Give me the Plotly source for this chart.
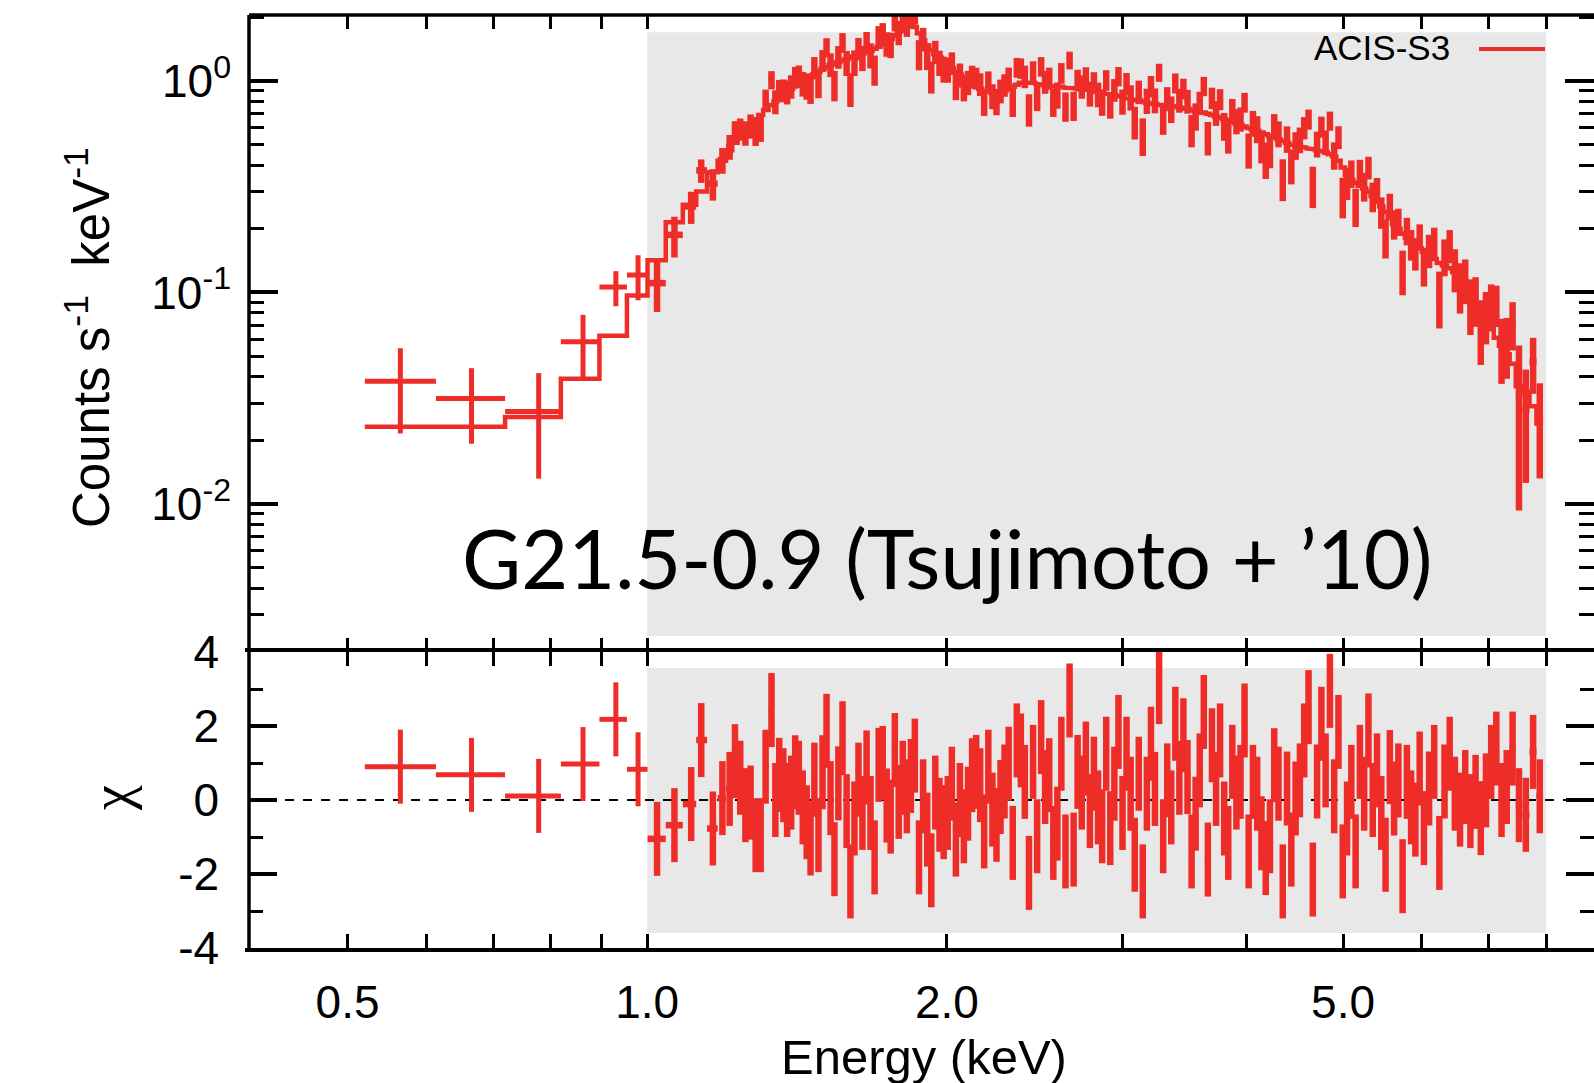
import numpy as np
import plotly.graph_objects as go

# ---------------- data ----------------
# bin centre energies (keV)
energy = [
    0.565, 0.666, 0.778, 0.862, 0.930, 0.979,
    1.023, 1.065, 1.107, 1.133, 1.164, 1.190, 1.210, 1.225, 1.240, 1.255,
    1.270, 1.285, 1.300, 1.315, 1.333, 1.345, 1.357, 1.370, 1.382, 1.395,
    1.408, 1.420, 1.433, 1.446, 1.459, 1.472, 1.486, 1.500, 1.514, 1.528,
    1.542, 1.556, 1.571, 1.586, 1.600, 1.615, 1.630, 1.645, 1.661, 1.676,
    1.692, 1.708, 1.724, 1.740, 1.756, 1.773, 1.789, 1.806, 1.823, 1.840,
    1.857, 1.875, 1.893, 1.911, 1.929, 1.947, 1.966,
    1.985, 2.004, 2.023, 2.042, 2.061, 2.080, 2.100, 2.120, 2.140, 2.160,
    2.180, 2.201, 2.222, 2.243, 2.264, 2.285, 2.307, 2.329, 2.351, 2.373,
    2.395, 2.418, 2.441, 2.464, 2.487, 2.510, 2.534, 2.558, 2.582, 2.606,
    2.631, 2.656, 2.681, 2.706, 2.732, 2.758, 2.784, 2.810, 2.837, 2.864,
    2.891, 2.918, 2.946, 2.974, 3.002, 3.030, 3.059, 3.088, 3.117, 3.146,
    3.176, 3.206, 3.236, 3.267, 3.298, 3.329, 3.360, 3.392, 3.424, 3.456,
    3.489, 3.522, 3.555, 3.589, 3.623, 3.657, 3.692, 3.727, 3.762, 3.798,
    3.834, 3.870, 3.907, 3.944, 3.981,
    4.019, 4.059, 4.099, 4.140, 4.181, 4.222, 4.264, 4.306, 4.349, 4.392,
    4.436, 4.480, 4.525, 4.570, 4.616, 4.662, 4.708, 4.755, 4.802, 4.850,
    4.898, 4.947, 4.996, 5.046, 5.096, 5.147, 5.198, 5.250, 5.302, 5.355,
    5.408, 5.462, 5.516, 5.571, 5.626, 5.682, 5.738, 5.795, 5.852, 5.910,
    5.969, 6.028, 6.100, 6.173, 6.247, 6.322, 6.398, 6.475, 6.553, 6.632,
    6.712, 6.793, 6.875, 6.958, 7.042, 7.127, 7.213, 7.300, 7.400, 7.510,
    7.630, 7.760, 7.880,
]

# model (step histogram), counts s^-1 keV^-1
model_rate = [
    0.0232, 0.0232, 0.0258, 0.0391, 0.0625, 0.0968,
    0.142, 0.215, 0.26, 0.30, 0.37, 0.42, 0.47, 0.51, 0.55, 0.58,
    0.62, 0.66, 0.69, 0.73, 0.77, 0.80, 0.83, 0.86, 0.89, 0.92,
    0.95, 0.98, 1.00, 1.03, 1.06, 1.08, 1.11, 1.14, 1.16, 1.19,
    1.21, 1.23, 1.25, 1.27, 1.29, 1.31, 1.33, 1.35, 1.37, 1.39,
    1.42, 1.45, 1.49, 1.53, 1.58, 1.64, 1.71, 1.78, 1.83, 1.85,
    1.80, 1.68, 1.56, 1.47, 1.40, 1.34, 1.29,
    1.24, 1.19, 1.15, 1.11, 1.07, 1.03, 1.00, 0.97, 0.94, 0.92,
    0.90, 0.89, 0.88, 0.88, 0.89, 0.90, 0.92, 0.94, 0.96, 0.98,
    0.99, 0.99, 0.98, 0.97, 0.96, 0.95, 0.95, 0.94, 0.94, 0.94,
    0.93, 0.93, 0.93, 0.92, 0.92, 0.91, 0.91, 0.90, 0.89, 0.88,
    0.87, 0.86, 0.86, 0.85, 0.84, 0.83, 0.82, 0.81, 0.81, 0.80,
    0.79, 0.78, 0.78, 0.77, 0.77, 0.77, 0.76, 0.76, 0.75, 0.74,
    0.74, 0.73, 0.72, 0.71, 0.71, 0.70, 0.69, 0.68, 0.67, 0.66,
    0.65, 0.64, 0.63, 0.62, 0.61,
    0.60, 0.59, 0.58, 0.57, 0.56, 0.55, 0.54, 0.53, 0.52, 0.51,
    0.50, 0.495, 0.49, 0.485, 0.48, 0.475, 0.47, 0.465, 0.46, 0.45,
    0.44, 0.42, 0.39, 0.36, 0.34, 0.33, 0.32, 0.31, 0.30, 0.285,
    0.27, 0.255, 0.24, 0.225, 0.21, 0.20, 0.19, 0.182, 0.175, 0.168,
    0.162, 0.156, 0.150, 0.144, 0.138, 0.134, 0.130, 0.125, 0.116, 0.106,
    0.097, 0.088, 0.080, 0.073, 0.067, 0.061, 0.056, 0.051, 0.046, 0.036,
    0.034, 0.029, 0.024,
]

# residuals chi = (data - model) / sigma
chi = [
    0.90, 0.68, 0.11, 0.97, 2.18, 0.83,
    -1.05, -0.68, -0.11, 1.62, -0.77, 0.05, 0.30, 1.05, 0.60, -0.14,
    -0.07, -0.95, -0.95, 0.90, 2.43, 0.00, 0.68, 0.40, 0.00, 0.20,
    0.75, 0.60, -0.20, -0.60, -1.04, 0.55, -0.95, 0.75, 1.87, 0.05,
    -1.60, 0.45, 1.67, -0.30, -2.20, -0.50, 0.55, -0.35, 0.88, -0.35,
    -1.55, 0.95, 1.00, -0.15, -0.45, 1.35, -0.05, 0.60, 0.10, 0.65,
    1.20, -1.55, 0.10, -0.80, -1.90, 0.20, -0.40,
    -0.60, -0.35, 0.44, -1.07, 0.00, -0.71, -0.10, 0.67, 0.76, 0.40,
    -0.85, 0.90, -0.26, -0.67, 0.08, 0.50, 0.98, -1.16, 1.61, 1.34,
    0.49, -1.97, 1.03, -0.98, 1.70, 0.35, 0.67, -1.16, -0.64, 1.25,
    -1.39, 2.69, -1.34, 0.76, 0.20, 1.12, -0.30, 0.71, -0.20, -0.71,
    1.25, -0.76, 0.44, 1.84, -0.35, 1.25, 0.17, -1.48, 0.71, -2.20,
    0.17, 1.52, 0.30, 3.05, -0.98, 0.53, -0.20, 2.06, 0.60, 1.75,
    0.62, -1.39, -0.37, 0.80, 2.38, -1.61, 1.48, 0.30, 1.61, -0.50,
    -1.16, 1.03, 0.20, 0.49, 2.15,
    -1.39, 0.49, 0.17, -0.90, -1.57, -0.98, 0.94, 0.44, -2.20, 0.31,
    -1.34, 0.04, 0.53, 1.61, 2.51, -2.15, 0.50, 2.06, 0.80, 2.95,
    0.10, 1.84, -1.66, -0.50, 0.49, -1.39, 1.03, 0.17, 1.88, 0.00,
    0.80, -0.35, -1.48, 0.89, 0.04, 0.53, -2.06, 0.49, -0.20, -0.53,
    0.85, -0.76, 0.31, 1.03, -1.43, 0.50, 1.25, 0.17, -0.26, 0.35,
    -0.30, 0.22, -0.49, 0.26, 1.03, 1.39, 0.00, 0.35, 1.39, -0.14,
    -0.40, 1.30, 0.10,
]

# 1-sigma error relative to the model rate
rel_err = [
    0.71, 0.53, 0.55, 0.51, 0.32, 0.30,
    0.21, 0.19, 0.17, 0.16, 0.15, 0.14, 0.14, 0.13, 0.13, 0.13,
    0.13, 0.13, 0.13, 0.13, 0.13, 0.13, 0.13, 0.13, 0.13, 0.13,
    0.13, 0.13, 0.13, 0.13, 0.13, 0.13, 0.13, 0.13, 0.13, 0.13,
    0.13, 0.13, 0.13, 0.13, 0.13, 0.13, 0.13, 0.13, 0.13, 0.13,
    0.13, 0.13, 0.13, 0.13, 0.13, 0.13, 0.13, 0.13, 0.13, 0.13,
    0.13, 0.13, 0.13, 0.13, 0.13, 0.13, 0.13,
    0.13, 0.13, 0.13, 0.13, 0.13, 0.13, 0.13, 0.13, 0.13, 0.13,
    0.13, 0.13, 0.13, 0.13, 0.13, 0.13, 0.13, 0.13, 0.13, 0.13,
    0.13, 0.13, 0.13, 0.13, 0.13, 0.13, 0.13, 0.13, 0.13, 0.13,
    0.13, 0.13, 0.13, 0.13, 0.13, 0.13, 0.13, 0.13, 0.13, 0.13,
    0.13, 0.13, 0.13, 0.13, 0.13, 0.14, 0.14, 0.14, 0.14, 0.14,
    0.14, 0.14, 0.14, 0.14, 0.14, 0.14, 0.14, 0.14, 0.14, 0.14,
    0.14, 0.14, 0.14, 0.14, 0.14, 0.14, 0.14, 0.14, 0.14, 0.14,
    0.14, 0.14, 0.14, 0.14, 0.14,
    0.15, 0.15, 0.15, 0.15, 0.15, 0.15, 0.15, 0.15, 0.15, 0.15,
    0.15, 0.15, 0.15, 0.15, 0.15, 0.15, 0.15, 0.15, 0.15, 0.15,
    0.15, 0.16, 0.16, 0.16, 0.16, 0.16, 0.16, 0.16, 0.16, 0.16,
    0.16, 0.16, 0.16, 0.16, 0.16, 0.16, 0.16, 0.16, 0.16, 0.16,
    0.16, 0.18, 0.19, 0.20, 0.21, 0.22, 0.23, 0.24, 0.25, 0.26,
    0.27, 0.28, 0.29, 0.30, 0.31, 0.32, 0.34, 0.36, 0.40, 0.65,
    0.45, 0.48, 0.50,
]

x_tick_vals = [0.5, 0.6, 0.7, 0.8, 0.9, 1.0, 2.0, 3.0, 4.0, 5.0, 6.0, 7.0, 8.0]
x_tick_text = ["0.5", "", "", "", "", "1.0", "2.0", "", "", "5.0", "", "", ""]
y_tick_vals = [0.01, 0.1, 1.0]
y_tick_text = ["10<sup>-2</sup>", "10<sup>-1</sup>", "10<sup>0</sup>"]
y_minor_vals = [0.002, 0.003, 0.004, 0.005, 0.006, 0.007, 0.008, 0.009,
                0.02, 0.03, 0.04, 0.05, 0.06, 0.07, 0.08, 0.09,
                0.2, 0.3, 0.4, 0.5, 0.6, 0.7, 0.8, 0.9, 2.0]
chi_tick_vals = [-4, -2, 0, 2, 4]
chi_tick_text = ["-4", "-2", "0", "2", "4"]
chi_minor_vals = [-3, -1, 1, 3]
band_energy = [1.0, 8.0]          # shaded fitting band (keV)

series_name = "ACIS-S3"
label_text = "G21.5-0.9 (Tsujimoto + \u201910)"

assert len(energy) == len(model_rate) == len(chi) == len(rel_err)

# ---------------- derived quantities ----------------
E = np.array(energy)
M = np.array(model_rate)
C = np.array(chi)
sig = M * np.array(rel_err)
rate = M + C * sig

mid = np.sqrt(E[:-1] * E[1:])
lo = np.concatenate([[E[0] ** 2 / mid[0]], mid])
hi = np.concatenate([mid, [E[-1] ** 2 / mid[-1]]])

step_x = np.column_stack([lo, hi]).ravel()
step_y = np.repeat(M, 2)

RED = "#ee2d28"
BLACK = "black"
LW = 3.5      # frame width
FONT = "Liberation Sans, Arial, Helvetica, sans-serif"
CLEAR = "rgba(0,0,0,0)"

fig = go.Figure()

fig.add_trace(go.Scatter(x=step_x, y=step_y, mode="lines",
                         line=dict(color=RED, width=4.5), xaxis="x", yaxis="y",
                         hoverinfo="skip"))

# sparse (wide) bins are drawn a little thinner than the crowded ones
groups = [(slice(0, 6), 5.0), (slice(6, None), 6.5)]
for sl, ew in groups:
    ex_p = (hi - E)[sl]
    ex_m = (E - lo)[sl]
    fig.add_trace(go.Scatter(
        x=E[sl], y=rate[sl], mode="markers",
        marker=dict(size=2, color=RED, opacity=0),
        error_x=dict(type="data", symmetric=False, array=ex_p, arrayminus=ex_m,
                     color=RED, thickness=ew, width=0),
        error_y=dict(type="data", array=sig[sl], color=RED, thickness=ew, width=0),
        xaxis="x", yaxis="y"))
    fig.add_trace(go.Scatter(
        x=E[sl], y=C[sl], mode="markers",
        marker=dict(size=2, color=RED, opacity=0),
        error_x=dict(type="data", symmetric=False, array=ex_p, arrayminus=ex_m,
                     color=RED, thickness=ew, width=0),
        error_y=dict(type="constant", value=1.0, color=RED, thickness=ew, width=0),
        xaxis="x2", yaxis="y2"))

split = 296 / 933
x_range = [-0.400, 0.951]

common_x = dict(type="log", range=x_range, showline=True, linewidth=LW,
                mirror="ticks", ticks="inside", ticklen=14,
                tickwidth=3, tickcolor=BLACK, tickmode="array",
                tickvals=x_tick_vals, showgrid=False, zeroline=False)

fig.update_layout(
    width=1594, height=1083,
    margin=dict(l=249, r=0, t=15, b=135),
    paper_bgcolor="white", plot_bgcolor="white",
    template="none", showlegend=False,
    font=dict(family=FONT, size=46, color=BLACK),
    xaxis=dict(**common_x, linecolor=CLEAR, domain=[0, 1], anchor="y",
               showticklabels=False),
    xaxis2=dict(**common_x, linecolor=BLACK, domain=[0, 1], anchor="y2",
                ticktext=x_tick_text, showticklabels=True,
                tickfont=dict(size=46, family=FONT), ticklabelstandoff=11),
    yaxis=dict(type="log", range=[-2.70, 0.312], domain=[split, 1], anchor="x",
               showline=True, linecolor=CLEAR, linewidth=LW,
               mirror="ticks", ticks="inside", ticklen=29, tickwidth=3.5,
               tickcolor=BLACK, tickmode="array", tickvals=y_tick_vals,
               ticktext=y_tick_text, tickfont=dict(size=46, family=FONT),
               ticklabelstandoff=5,
               minor=dict(tickmode="array", tickvals=y_minor_vals, ticks="inside",
                          ticklen=15, tickwidth=3, tickcolor=BLACK, showgrid=False),
               showgrid=False, zeroline=False),
    yaxis2=dict(range=[-4, 4], domain=[0, split], anchor="x2",
                showline=True, linecolor=CLEAR, linewidth=LW,
                mirror="ticks", ticks="inside", ticklen=28, tickwidth=3.5,
                tickcolor=BLACK, tickmode="array", tickvals=chi_tick_vals,
                ticktext=chi_tick_text, tickfont=dict(size=46, family=FONT),
                ticklabelstandoff=17,
                minor=dict(tickmode="array", tickvals=chi_minor_vals, ticks="inside",
                           ticklen=14, tickwidth=3, tickcolor=BLACK, showgrid=False),
                showgrid=False, zeroline=False),
)

GREY = "#e8e8e8"
shapes = [
    dict(type="rect", xref="x", yref="y domain", x0=band_energy[0], x1=band_energy[1],
         y0=0.025, y1=0.973, fillcolor=GREY, line=dict(width=0), layer="below"),
    dict(type="rect", xref="x2", yref="y2 domain", x0=band_energy[0], x1=band_energy[1],
         y0=0.051, y1=0.946, fillcolor=GREY, line=dict(width=0), layer="below"),
    dict(type="line", xref="x2 domain", yref="y2", x0=0, x1=1, y0=0, y1=0,
         line=dict(color=BLACK, width=2, dash="dash"), layer="below"),
    # left frame
    dict(type="line", xref="paper", yref="paper", x0=0, x1=0, y0=0, y1=1,
         line=dict(color=BLACK, width=LW), layer="above"),
    # top frame
    dict(type="line", xref="paper", yref="paper", x0=0, x1=1, y0=1, y1=1,
         line=dict(color=BLACK, width=LW), layer="above"),
    # legend sample line
    dict(type="line", xref="paper", yref="paper", x0=(1479 - 249) / 1345,
         x1=(1545 - 249) / 1345, y0=(948 - 49) / 933, y1=(948 - 49) / 933,
         line=dict(color=RED, width=4), layer="above"),
]
fig.update_layout(shapes=shapes)

annotations = [
    dict(text=series_name, xref="paper", yref="paper", x=(1452 - 249) / 1345,
         y=(948 - 48) / 933, xanchor="right", yanchor="middle", showarrow=False,
         font=dict(family=FONT, size=35, color=BLACK)),
    dict(text=label_text, xref="paper", yref="paper", x=(460 - 249) / 1345,
         y=(948 - 557) / 933, xanchor="left", yanchor="middle", showarrow=False,
         font=dict(family="Lato, Open Sans, sans-serif", size=81, color=BLACK)),
    dict(text="Counts s<sup>-1</sup>  keV<sup>-1</sup>", xref="paper", yref="paper",
         x=(88 - 249) / 1345, y=(948 - 338) / 933, textangle=-90,
         xanchor="center", yanchor="middle", showarrow=False,
         font=dict(family=FONT, size=51, color=BLACK)),
    dict(text="\u03c7", xref="paper", yref="paper", x=(111 - 249) / 1345,
         y=(948 - 798) / 933, textangle=-90, xanchor="center", yanchor="middle",
         showarrow=False, font=dict(family="Liberation Serif, serif", size=56, color=BLACK)),
    dict(text="Energy (keV)", xref="paper", yref="paper", x=(924 - 249) / 1345,
         y=(948 - 1057) / 933, xanchor="center", yanchor="middle", showarrow=False,
         font=dict(family=FONT, size=49, color=BLACK)),
]
fig.update_layout(annotations=annotations)

fig.write_html("out.html")
